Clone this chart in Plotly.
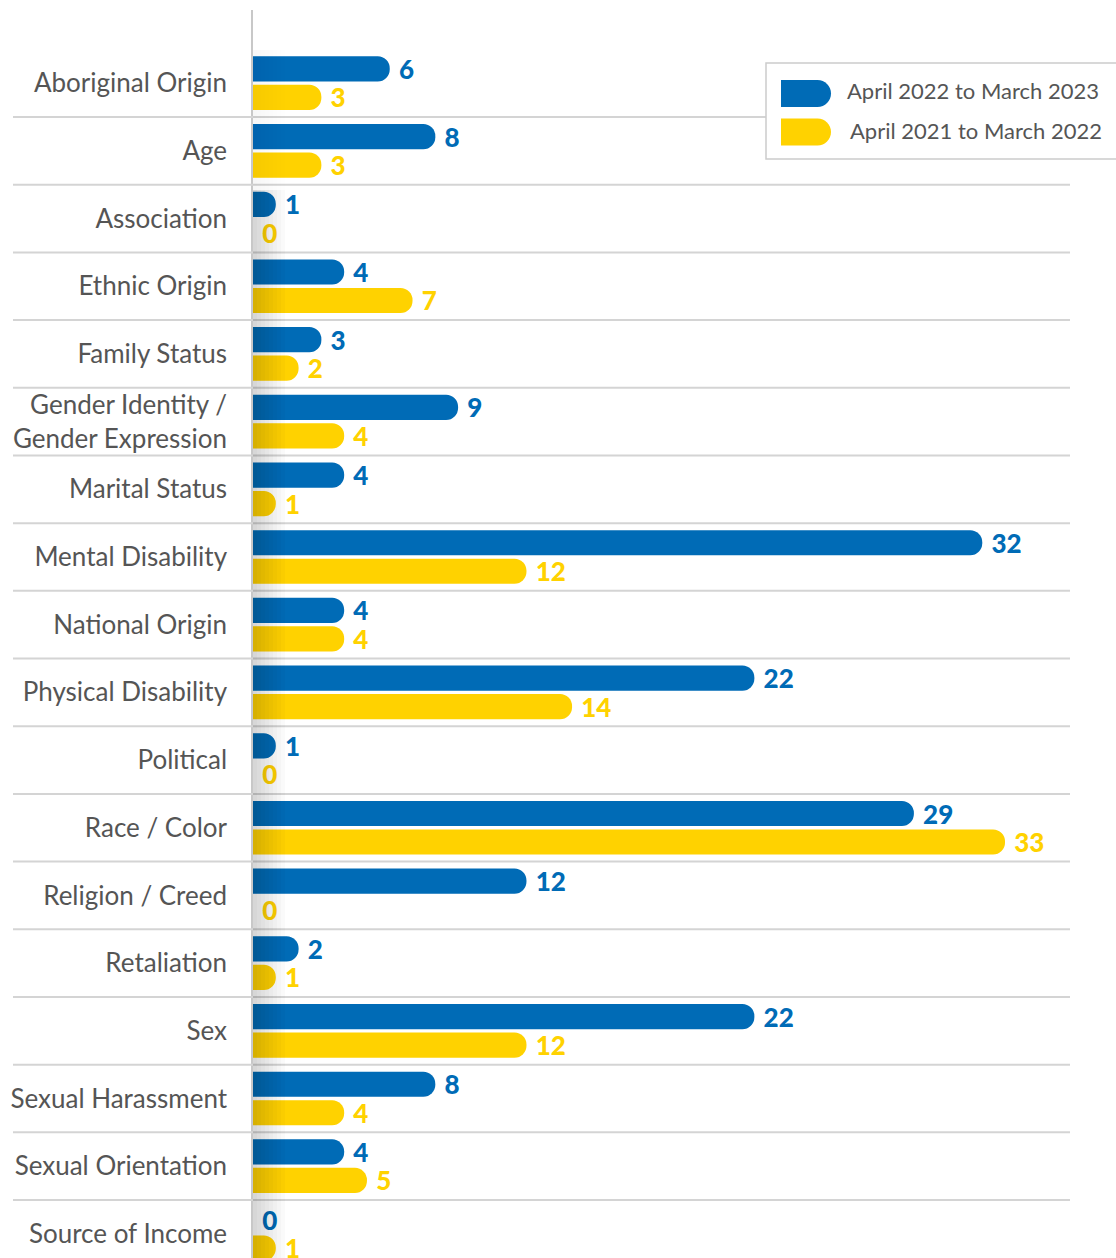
import plotly.graph_objects as go

categories = [
    "Aboriginal Origin", "Age", "Association", "Ethnic Origin", "Family Status",
    "Gender Identity /<br>Gender Expression", "Marital Status", "Mental Disability",
    "National Origin", "Physical Disability", "Political", "Race / Color",
    "Religion / Creed", "Retaliation", "Sex", "Sexual Harassment",
    "Sexual Orientation", "Source of Income",
]
series_names = ["April 2022 to March 2023", "April 2021 to March 2022"]
values_2022_23 = [6, 8, 1, 4, 3, 9, 4, 32, 4, 22, 1, 29, 12, 2, 22, 8, 4, 0]
values_2021_22 = [3, 3, 0, 7, 2, 4, 1, 12, 4, 14, 0, 33, 0, 1, 12, 4, 5, 1]

BLUE = "#006BB6"
YELLOW = "#FFD200"
GRAY_TXT = "#555555"
LINE = "#D4D4D4"

W, H = 1116, 1258
L, R, T, B = 253, 1070, 10, 1258  # plot area in px
PW, PH = R - L, B - T


def px_x(x):
    return (x - L) / PW


def px_y(y):
    return (B - y) / PH


fig = go.Figure()
for name, vals, col in [(series_names[0], values_2022_23, BLUE),
                        (series_names[1], values_2021_22, YELLOW)]:
    fig.add_trace(go.Bar(
        y=categories, x=vals, name=name, orientation="h",
        marker=dict(color=col, cornerradius=12, line=dict(width=0)),
        text=[f" {v}" for v in vals], textposition="outside",
        constraintext="none",
        textfont=dict(family="Lato", size=26, color=col, weight=900),
        cliponaxis=False, showlegend=False, hoverinfo="skip",
    ))

shapes = []
# row separators
for i in range(len(categories) - 1):
    shapes.append(dict(type="line", xref="paper", yref="y",
                       x0=px_x(13), x1=1, y0=i + 0.5, y1=i + 0.5,
                       line=dict(color=LINE, width=2), layer="above"))

# axis shadow (soft gradient near the baseline)
for k in range(1, 9):
    shapes.append(dict(type="rect", xref="paper", yref="paper",
                       x0=0, x1=px_x(L + 4 * k), y0=0, y1=px_y(190),
                       fillcolor="rgba(0,0,0,0.018)", line=dict(width=0), layer="above"))
    shapes.append(dict(type="rect", xref="paper", yref="paper",
                       x0=0, x1=px_x(L + 4 * k), y0=px_y(190), y1=px_y(50),
                       fillcolor="rgba(0,0,0,0.004)", line=dict(width=0), layer="above"))

# legend box
shapes.append(dict(type="rect", xref="paper", yref="paper",
                   x0=px_x(766), x1=px_x(1130), y0=px_y(159), y1=px_y(63),
                   fillcolor="white", line=dict(color="#CCCCCC", width=1.5), layer="above"))


def pill(x0, yc, w, h, color):
    r = h / 2
    x1 = x0 + w
    k = 0.5523 * r
    pts = [
        f"M {px_x(x0)},{px_y(yc - r)}",
        f"L {px_x(x1 - r)},{px_y(yc - r)}",
        f"C {px_x(x1 - r + k)},{px_y(yc - r)} {px_x(x1)},{px_y(yc - k)} {px_x(x1)},{px_y(yc)}",
        f"C {px_x(x1)},{px_y(yc + k)} {px_x(x1 - r + k)},{px_y(yc + r)} {px_x(x1 - r)},{px_y(yc + r)}",
        f"L {px_x(x0)},{px_y(yc + r)} Z",
    ]
    return dict(type="path", xref="paper", yref="paper", path=" ".join(pts),
                fillcolor=color, line=dict(width=0), layer="above")


shapes.append(pill(781, 93.5, 50, 27, BLUE))
shapes.append(pill(781, 132, 50, 27, YELLOW))

annotations = [
    dict(xref="paper", yref="paper", x=px_x(845), y=px_y(90), text=series_names[0],
         xanchor="left", yanchor="middle", showarrow=False,
         font=dict(family="Lato", size=22, color=GRAY_TXT)),
    dict(xref="paper", yref="paper", x=px_x(848), y=px_y(130), text=series_names[1],
         xanchor="left", yanchor="middle", showarrow=False,
         font=dict(family="Lato", size=22, color=GRAY_TXT)),
]

fig.update_layout(
    width=W, height=H,
    margin=dict(l=L, r=W - R, t=T, b=H - B, pad=0),
    paper_bgcolor="white", plot_bgcolor="white",
    barmode="group", bargap=0.158, bargroupgap=0.116,
    shapes=shapes, annotations=annotations,
    xaxis=dict(range=[0, 35.85], showgrid=False, zeroline=False,
               showticklabels=False, showline=False, fixedrange=True),
    yaxis=dict(type="category", categoryorder="array", categoryarray=categories,
               range=[17.356, -1.081], showgrid=False, zeroline=False,
               showline=True, linecolor="#C8C8C8", linewidth=1.5,
               ticks="", ticklabelstandoff=19,
               tickfont=dict(family="Lato", size=26, color=GRAY_TXT)),
    font=dict(family="Lato"),
)

fig.write_html("out.html", config={"displayModeBar": False},
               post_script="document.body.style.margin='0';")
